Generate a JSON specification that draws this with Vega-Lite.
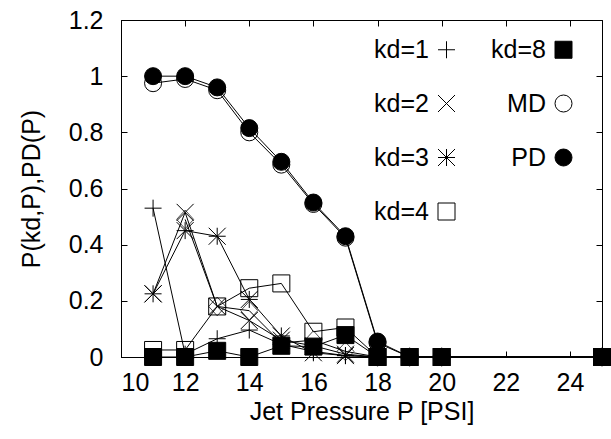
{
  "$schema": "https://vega.github.io/schema/vega-lite/v6.json",
  "width": 481,
  "height": 337,
  "autosize": {"type": "none"},
  "padding": {"left": 121, "top": 20, "right": 9, "bottom": 82},
  "background": "white",
  "config": {
    "font": "Liberation Sans",
    "view": {"stroke": "black", "strokeWidth": 1},
    "axis": {
      "domainColor": "black", "tickColor": "black", "labelColor": "black", "titleColor": "black",
      "labelFont": "Liberation Sans", "titleFont": "Liberation Sans",
      "labelFontSize": 25, "titleFontSize": 25, "titleFontWeight": "normal",
      "grid": false, "tickSize": -6, "tickWidth": 1, "domainWidth": 1
    },
    "legend": {
      "labelFont": "Liberation Sans", "labelFontSize": 25, "labelColor": "black",
      "symbolStrokeWidth": 1, "symbolSize": 289
    }
  },
  "data": {
    "values": [
      {"s": "kd=1", "p": 11, "v": 0.53}, {"s": "kd=1", "p": 12, "v": 0.01}, {"s": "kd=1", "p": 13, "v": 0.065}, {"s": "kd=1", "p": 14, "v": 0.096}, {"s": "kd=1", "p": 15, "v": 0.045}, {"s": "kd=1", "p": 16, "v": 0.02}, {"s": "kd=1", "p": 17, "v": 0.005}, {"s": "kd=1", "p": 18, "v": 0}, {"s": "kd=1", "p": 19, "v": 0}, {"s": "kd=1", "p": 20, "v": 0}, {"s": "kd=1", "p": 25, "v": 0},
      {"s": "kd=2", "p": 11, "v": 0.225}, {"s": "kd=2", "p": 12, "v": 0.515}, {"s": "kd=2", "p": 13, "v": 0.18}, {"s": "kd=2", "p": 14, "v": 0.13}, {"s": "kd=2", "p": 15, "v": 0.06}, {"s": "kd=2", "p": 16, "v": 0.04}, {"s": "kd=2", "p": 17, "v": 0.01}, {"s": "kd=2", "p": 18, "v": 0}, {"s": "kd=2", "p": 19, "v": 0}, {"s": "kd=2", "p": 20, "v": 0}, {"s": "kd=2", "p": 25, "v": 0},
      {"s": "kd=3", "p": 11, "v": 0.225}, {"s": "kd=3", "p": 12, "v": 0.45}, {"s": "kd=3", "p": 13, "v": 0.43}, {"s": "kd=3", "p": 14, "v": 0.205}, {"s": "kd=3", "p": 15, "v": 0.075}, {"s": "kd=3", "p": 16, "v": 0.015}, {"s": "kd=3", "p": 17, "v": 0.005}, {"s": "kd=3", "p": 18, "v": 0}, {"s": "kd=3", "p": 19, "v": 0}, {"s": "kd=3", "p": 20, "v": 0}, {"s": "kd=3", "p": 25, "v": 0},
      {"s": "kd=4", "p": 11, "v": 0.025}, {"s": "kd=4", "p": 12, "v": 0.025}, {"s": "kd=4", "p": 13, "v": 0.18}, {"s": "kd=4", "p": 14, "v": 0.245}, {"s": "kd=4", "p": 15, "v": 0.262}, {"s": "kd=4", "p": 16, "v": 0.09}, {"s": "kd=4", "p": 17, "v": 0.105}, {"s": "kd=4", "p": 18, "v": 0}, {"s": "kd=4", "p": 19, "v": 0}, {"s": "kd=4", "p": 20, "v": 0}, {"s": "kd=4", "p": 25, "v": 0},
      {"s": "dia", "p": 12, "v": 0.49}, {"s": "dia", "p": 13, "v": 0.18}, {"s": "dia", "p": 14, "v": 0.165}, {"s": "dia", "p": 15, "v": 0.05}, {"s": "dia", "p": 16, "v": 0.06}, {"s": "dia", "p": 17, "v": 0.02}, {"s": "dia", "p": 18, "v": 0}, {"s": "dia", "p": 19, "v": 0}, {"s": "dia", "p": 20, "v": 0}, {"s": "dia", "p": 25, "v": 0},
      {"s": "kd=8", "p": 11, "v": 0}, {"s": "kd=8", "p": 12, "v": 0}, {"s": "kd=8", "p": 13, "v": 0.022}, {"s": "kd=8", "p": 14, "v": 0}, {"s": "kd=8", "p": 15, "v": 0.04}, {"s": "kd=8", "p": 16, "v": 0.037}, {"s": "kd=8", "p": 17, "v": 0.078}, {"s": "kd=8", "p": 18, "v": 0}, {"s": "kd=8", "p": 19, "v": 0}, {"s": "kd=8", "p": 20, "v": 0}, {"s": "kd=8", "p": 25, "v": 0},
      {"s": "MD", "p": 11, "v": 0.975}, {"s": "MD", "p": 12, "v": 0.99}, {"s": "MD", "p": 13, "v": 0.95}, {"s": "MD", "p": 14, "v": 0.8}, {"s": "MD", "p": 15, "v": 0.685}, {"s": "MD", "p": 16, "v": 0.545}, {"s": "MD", "p": 17, "v": 0.425}, {"s": "MD", "p": 18, "v": 0.05}, {"s": "MD", "p": 19, "v": 0}, {"s": "MD", "p": 20, "v": 0}, {"s": "MD", "p": 25, "v": 0},
      {"s": "PD", "p": 11, "v": 1.0}, {"s": "PD", "p": 12, "v": 1.0}, {"s": "PD", "p": 13, "v": 0.96}, {"s": "PD", "p": 14, "v": 0.815}, {"s": "PD", "p": 15, "v": 0.695}, {"s": "PD", "p": 16, "v": 0.55}, {"s": "PD", "p": 17, "v": 0.43}, {"s": "PD", "p": 18, "v": 0.055}, {"s": "PD", "p": 19, "v": 0}, {"s": "PD", "p": 20, "v": 0}, {"s": "PD", "p": 25, "v": 0}
    ]
  },
  "layer": [
    {
      "mark": {"type": "line", "stroke": "black", "strokeWidth": 1},
      "encoding": {
        "x": {"field": "p", "type": "quantitative", "scale": {"domain": [10, 25], "nice": false, "zero": false},
              "axis": {"orient": "bottom", "values": [10, 12, 14, 16, 18, 20, 22, 24], "title": "Jet Pressure P [PSI]", "labelPadding": 19, "titlePadding": 4}},
        "y": {"field": "v", "type": "quantitative", "scale": {"domain": [0, 1.2], "nice": false},
              "axis": {"orient": "left", "values": [0, 0.2, 0.4, 0.6, 0.8, 1, 1.2], "format": "~g", "title": "P(kd,P),PD(P)", "labelPadding": 24, "titlePadding": 24}},
        "detail": {"field": "s"}
      }
    },
    {
      "transform": [{"filter": "datum.s != 'dia'"}],
      "mark": {"type": "point", "filled": true, "size": 289, "strokeWidth": 1, "opacity": 1},
      "encoding": {
        "x": {"field": "p", "type": "quantitative", "axis": {"orient": "top", "values": [10, 12, 14, 16, 18, 20, 22, 24], "labels": false, "title": null}},
        "y": {"field": "v", "type": "quantitative", "axis": {"orient": "right", "values": [0, 0.2, 0.4, 0.6, 0.8, 1, 1.2], "labels": false, "title": null}},
        "shape": {"field": "s", "type": "nominal",
          "scale": {"domain": ["kd=1", "kd=2", "kd=3", "kd=4", "kd=8", "MD", "PD"],
                    "range": ["M-1,0L1,0M0,-1L0,1", "M-1,-1L1,1M-1,1L1,-1", "M-1,0L1,0M0,-1L0,1M-1,-1L1,1M-1,1L1,-1", "square", "square", "circle", "circle"]},
          "legend": {"title": null, "orient": "none", "legendX": 313, "legendY": 17, "columns": 2, "labelAlign": "right", "labelOffset": -30, "rowPadding": 28, "columnPadding": 34, "symbolSize": 289, "symbolStrokeWidth": 1}},
        "fill": {"field": "s", "type": "nominal",
          "scale": {"domain": ["kd=1", "kd=2", "kd=3", "kd=4", "kd=8", "MD", "PD"],
                    "range": ["transparent", "transparent", "transparent", "transparent", "black", "transparent", "black"]},
          "legend": {"title": null, "orient": "none", "legendX": 313, "legendY": 17, "columns": 2, "labelAlign": "right", "labelOffset": -30, "rowPadding": 28, "columnPadding": 34, "symbolSize": 289, "symbolStrokeWidth": 1}},
        "stroke": {"field": "s", "type": "nominal",
          "scale": {"domain": ["kd=1", "kd=2", "kd=3", "kd=4", "kd=8", "MD", "PD"],
                    "range": ["black", "black", "black", "black", "black", "black", "black"]},
          "legend": {"title": null, "orient": "none", "legendX": 313, "legendY": 17, "columns": 2, "labelAlign": "right", "labelOffset": -30, "rowPadding": 28, "columnPadding": 34, "symbolSize": 289, "symbolStrokeWidth": 1}}
      }
    },
    {
      "transform": [{"filter": "datum.s == 'dia'"}],
      "mark": {"type": "point", "size": 289, "shape": "M0,-1.1L1,0L0,1.1L-1,0Z", "stroke": "black", "strokeWidth": 1, "fill": "transparent", "filled": false},
      "encoding": {
        "x": {"field": "p", "type": "quantitative", "axis": null},
        "y": {"field": "v", "type": "quantitative", "axis": null}
      }
    }
  ],
  "resolve": {"axis": {"x": "independent", "y": "independent"}}
}
